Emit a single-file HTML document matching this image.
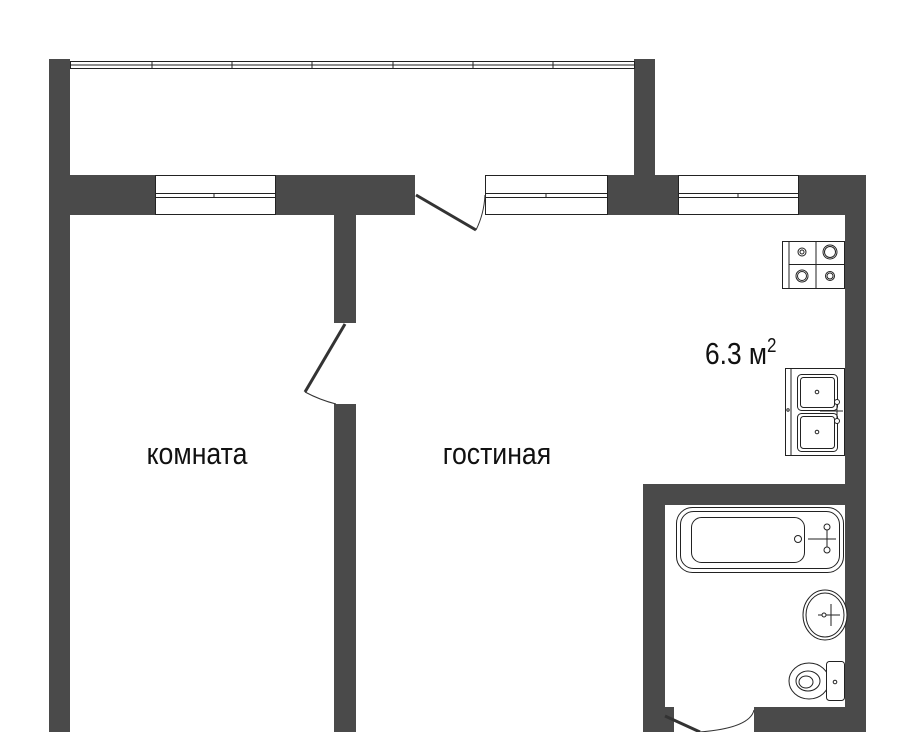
<!DOCTYPE html>
<html><head><meta charset="utf-8"><style>
html,body{margin:0;padding:0;background:#fff;}
svg{display:block;}
text{font-family:"Liberation Sans","DejaVu Sans",sans-serif;fill:#111;}
</style></head><body>
<svg width="915" height="732" viewBox="0 0 915 732" xmlns="http://www.w3.org/2000/svg">
<rect width="915" height="732" fill="#fff"/>
<g fill="#4a4a4a">
<rect x="49" y="59" width="21" height="673"/>
<rect x="634" y="59" width="21" height="118"/>
<rect x="49" y="175" width="106" height="40"/>
<rect x="275" y="175" width="140" height="40"/>
<rect x="607" y="175" width="71" height="40"/>
<rect x="798" y="175" width="68" height="40"/>
<rect x="845" y="175" width="21" height="557"/>
<rect x="334" y="215" width="22" height="108"/>
<rect x="334" y="404" width="22" height="328"/>
<rect x="643" y="484" width="202" height="21"/>
<rect x="643" y="484" width="22" height="248"/>
<rect x="643" y="707" width="31" height="25"/>
<rect x="754" y="707" width="91" height="25"/>
</g>
<g fill="none" stroke="#222" stroke-width="1">
<rect x="70.5" y="61.5" width="564" height="7"/>
<line x1="70" y1="65" x2="634" y2="65"/>
<rect x="155.5" y="175.5" width="120" height="39"/>
<rect x="155.5" y="193.5" width="120" height="4"/>
<rect x="485.5" y="175.5" width="122" height="39"/>
<rect x="485.5" y="193.5" width="122" height="4"/>
<rect x="678.5" y="175.5" width="120" height="39"/>
<rect x="678.5" y="193.5" width="120" height="4"/>
</g>
<g stroke="#222" stroke-width="1">
<line x1="152" y1="61" x2="152" y2="69"/><line x1="232" y1="61" x2="232" y2="69"/><line x1="312" y1="61" x2="312" y2="69"/><line x1="393" y1="61" x2="393" y2="69"/><line x1="473" y1="61" x2="473" y2="69"/><line x1="553" y1="61" x2="553" y2="69"/>
<line x1="214" y1="193" x2="214" y2="198"/><line x1="546" y1="193" x2="546" y2="198"/><line x1="738" y1="193" x2="738" y2="198"/>
</g>
<line x1="416" y1="195" x2="476" y2="230" stroke="#333" stroke-width="3"/>
<path d="M476 230 Q484 214 485 195" fill="none" stroke="#333" stroke-width="1"/>
<line x1="345" y1="324" x2="305" y2="392" stroke="#333" stroke-width="3"/>
<path d="M305 392 Q320 400 336 404" fill="none" stroke="#333" stroke-width="1"/>
<line x1="665" y1="716" x2="700" y2="732" stroke="#333" stroke-width="3"/>
<path d="M700 732 Q750 728 754 710" fill="none" stroke="#333" stroke-width="1"/>
<g fill="#fff" stroke="#222" stroke-width="1">
<rect x="782.5" y="241.5" width="62" height="47"/>
<line x1="789" y1="241" x2="789" y2="288"/>
<line x1="816" y1="241" x2="816" y2="288"/>
<line x1="789" y1="264.5" x2="845" y2="264.5"/>
<circle cx="802" cy="252" r="4"/><circle cx="802" cy="252" r="2"/>
<circle cx="830" cy="252" r="7"/><circle cx="830" cy="252" r="5.5"/>
<circle cx="802" cy="276" r="6"/><circle cx="802" cy="276" r="4.5"/>
<circle cx="830" cy="276" r="4.5"/><circle cx="830" cy="276" r="3"/>
</g>
<g fill="#fff" stroke="#222" stroke-width="1">
<rect x="785.5" y="368.5" width="59" height="87"/>
<line x1="791" y1="368" x2="791" y2="455"/>
<rect x="797.5" y="374.5" width="40" height="36" rx="4"/>
<rect x="800.5" y="377.5" width="34" height="30" rx="3"/>
<rect x="797.5" y="413.5" width="40" height="38" rx="4"/>
<rect x="800.5" y="416.5" width="34" height="32" rx="3"/>
<circle cx="817" cy="392" r="1.8"/><circle cx="817" cy="432" r="1.8"/>
<line x1="820" y1="411" x2="843" y2="411"/>
<line x1="837" y1="401" x2="837" y2="422"/>
<circle cx="837" cy="402" r="2.5"/><circle cx="837" cy="421" r="2.5"/>
<circle cx="788" cy="410" r="1.2"/>
</g>
<g fill="#fff" stroke="#222" stroke-width="1">
<rect x="676.5" y="507.5" width="167" height="65" rx="16"/>
<rect x="680.5" y="511.5" width="159" height="57" rx="13"/>
<rect x="691.5" y="517.5" width="113" height="45" rx="10"/>
<circle cx="798" cy="539" r="3.5"/>
<line x1="808" y1="539" x2="836" y2="539"/>
<line x1="827" y1="527" x2="827" y2="550"/>
<circle cx="827" cy="527" r="3"/><circle cx="827" cy="550" r="3"/>
</g>
<g fill="#fff" stroke="#222" stroke-width="1">
<ellipse cx="825" cy="615" rx="22" ry="25"/>
<ellipse cx="825" cy="615" rx="19" ry="22"/>
<line x1="818" y1="615" x2="840" y2="615"/>
<line x1="831" y1="604" x2="831" y2="626"/>
<circle cx="824" cy="615" r="2"/>
</g>
<g fill="#fff" stroke="#222" stroke-width="1">
<ellipse cx="809" cy="681" rx="20" ry="18"/>
<ellipse cx="808" cy="681" rx="12" ry="10"/>
<ellipse cx="806" cy="682" rx="7" ry="6"/>
<rect x="826.5" y="661.5" width="18" height="39" rx="3"/>
<circle cx="835" cy="682" r="1.8"/>
</g>
<text x="197" y="464" font-size="31" text-anchor="middle" transform="translate(197 0) scale(0.86 1) translate(-197 0)">комната</text>
<text x="497" y="464" font-size="31" text-anchor="middle" transform="translate(497 0) scale(0.86 1) translate(-497 0)">гостиная</text>
<text x="705" y="364" font-size="31" transform="translate(705 0) scale(0.85 1) translate(-705 0)">6.3 м<tspan font-size="20" dy="-12">2</tspan></text>
</svg>
</body></html>
